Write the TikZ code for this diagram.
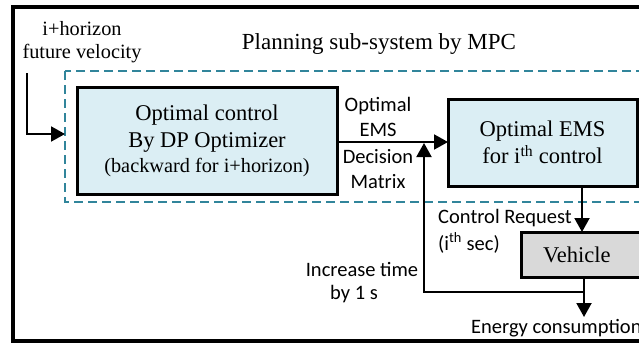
\documentclass[tikz,border=0pt]{standalone}
\usepackage{fontspec}
\setmainfont{Liberation Serif}
\newfontfamily\labelfont{Carlito}
\usetikzlibrary{arrows.meta}

\definecolor{boxblue}{RGB}{219,238,244}
\definecolor{dashteal}{RGB}{49,133,155}
\definecolor{vehgray}{RGB}{217,217,217}

\begin{document}
\begin{tikzpicture}[x=1pt,y=-1pt,
  blockbox/.style={draw=black, line width=3pt, fill=boxblue, inner sep=0pt,
    outer sep=0pt, align=center, anchor=north west,
    font=\fontsize{22.5}{27}\selectfont},
  vehbox/.style={draw=black, line width=3pt, fill=vehgray, inner ysep=0pt,
    outer sep=0pt, anchor=north west, align=left,
    font=\fontsize{22.5}{27}\selectfont},
  conn/.style={line width=2pt, -{Triangle[length=14pt,width=15pt]}},
  wire/.style={line width=2pt},
  sanslbl/.style={font=\labelfont\fontsize{20.5}{24.5}\selectfont,
    inner sep=0pt, align=center},
  seriflbl/.style={font=\fontsize{20.3}{23}\selectfont, inner sep=0pt,
    align=center}]

\useasboundingbox (0,0) rectangle (639,343);
\clip (0,0) rectangle (639,343);

% outer frame
\draw[line width=3.5pt] (13,7) rectangle (700,341);

% planning sub-system region
\draw[dashteal, line width=2.5pt, dash pattern=on 9pt off 5pt]
  (65,71) rectangle (700,202);

% titles and input label
\node[seriflbl] (horizon) at (82,42) {i+horizon\\future velocity};
\node[font=\fontsize{23}{27}\selectfont, inner sep=0pt] (title) at (379,44)
  {Planning sub-system by MPC};

% blocks
\node[blockbox, minimum width=260pt, minimum height=107pt] (dp) at (77,87)
  {Optimal control\\By DP Optimizer\\[-2pt]
   {\fontsize{20.3}{24}\selectfont (backward for i+horizon)}};
\node[blockbox, minimum width=189pt, minimum height=87pt] (ems) at (448,99)
  {Optimal EMS\\for i\textsuperscript{th} control};
\node[vehbox, minimum height=45pt, text width=110pt, inner xsep=22pt] (veh)
  at (521,232) {Vehicle};

% connector labels
\node[sanslbl] (optems) at (378,117) {Optimal\\EMS};
\node[sanslbl] (decmat) at (378,169) {Decision\\Matrix};
\node[sanslbl, anchor=west] (ctrlreq) at (438,218) {Control Request};
\node[sanslbl, anchor=west] (ithsec) at (438,243) {(i\textsuperscript{th} sec)};
\node[sanslbl] (inctime) at (362,269) {Increase time};
\node[sanslbl] (byone) at (354,294) {by 1 s};
\node[sanslbl, anchor=base west] (energy) at (471,333) {Energy consumption};

% connector end points
\coordinate (inTop) at (27,73);
\coordinate (inEnd) at (65,134);
\coordinate (crTop) at (582,186);
\coordinate (fbJoin) at (584,292);
\coordinate (fbTip) at (424,143);
\coordinate (enTip) at (584,317);

% connectors
\draw[conn] (inTop) |- (inEnd);
\draw[conn] ([yshift=-1.5pt]dp.east) -- ([yshift=-1.5pt]dp.east -| ems.west);
\draw[conn] (crTop) -- (crTop |- veh.north);
\draw[conn] (veh.south -| fbJoin) -- (enTip);
\draw[conn] (fbJoin) -| (fbTip);

\end{tikzpicture}
\end{document}
